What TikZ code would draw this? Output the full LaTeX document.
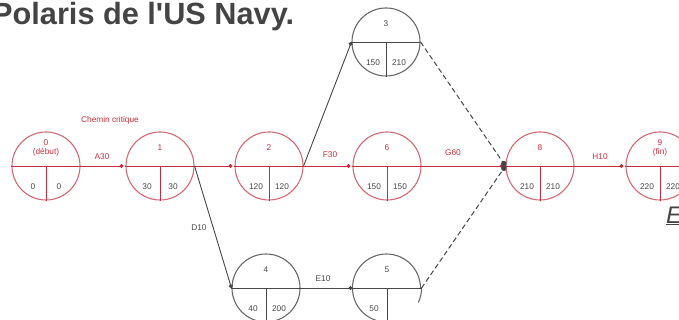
\documentclass[tikz,border=0pt]{standalone}
\usepackage{fontspec}
\setmainfont{Liberation Sans}
\newfontfamily\titlefont{Liberation Sans}[Ligatures=TeXOff]
\usetikzlibrary{arrows.meta}
\definecolor{crit}{RGB}{198,45,60}
\definecolor{critc}{RGB}{210,105,115}
\definecolor{gl}{RGB}{70,70,70}
\definecolor{gc}{RGB}{105,105,105}
\definecolor{titlegray}{RGB}{68,68,68}
\newcommand{\evnode}[9]{% name, x, y, circle style, line color, top, left, right, top colour
  \node[#4] (#1) at (#2,#3) {};
  \draw[#5, line width=0.9pt] (#1.west) -- (#1.east);
  \draw[#5, line width=0.9pt] (#1.center) -- (#1.south);
  \node[lab, text=#9] at (#2,#3-18) {#6};
  \node[lab] at (#2-13,#3+21) {#7};
  \node[lab] at (#2+13,#3+21) {#8};
}
\begin{document}
\begin{tikzpicture}[x=1pt,y=-1pt,
  ev/.style={circle, minimum size=68pt, inner sep=0pt, line width=1.1pt},
  critev/.style={ev, draw=critc},
  normev/.style={ev, draw=gc},
  lab/.style={font=\fontsize{8.3}{9}\selectfont, inner sep=0pt, align=center, text=gl},
  redlab/.style={font=\fontsize{8.3}{9}\selectfont, inner sep=0pt, text=crit},
  critline/.style={draw=crit, line width=0.9pt, -{Circle[length=4pt]}, shorten >=2pt},
  normline/.style={draw=gl, line width=0.9pt, -{Circle[length=4pt]}},
  dashline/.style={draw=gl, line width=1pt, dash pattern=on 5pt off 3pt, -{Circle[length=5.5pt]}}
]
\useasboundingbox (0,0) rectangle (679,320);
\clip (0,0) rectangle (679,320);

% title
\node[anchor=base west, inner sep=0pt, text=titlegray,
      font=\titlefont\bfseries\fontsize{30.7}{31}\selectfont] (title) at (-8,25) {Polaris de l'US Navy.};

% events
\evnode{n0}{46}{166}{critev}{crit}{0\\(début)}{0}{0}{crit}
\evnode{n1}{160}{166}{critev}{crit}{1}{30}{30}{crit}
\evnode{n2}{269}{166}{critev}{crit}{2}{120}{120}{crit}
\evnode{n6}{387}{166}{critev}{crit}{6}{150}{150}{crit}
\evnode{n8}{540}{166}{critev}{crit}{8}{210}{210}{crit}
\evnode{n9}{660}{166}{critev}{crit}{9\\(fin)}{220}{220}{crit}
\evnode{n3}{386}{42}{normev}{gl}{3}{150}{210}{gl}
\evnode{n4}{266}{288}{normev}{gl}{4}{40}{200}{gl}

% event 5 (partly hidden)
\node[ev, draw=none] (n5) at (387,288) {};
\draw[gc, line width=1.1pt] (n5.west) arc[start angle=180, end angle=0, radius=34pt];
\draw[gc, line width=1.1pt] (n5.west) arc[start angle=180, end angle=270, radius=34pt];
\draw[gc, line width=1.1pt] (n5.east) arc[start angle=0, end angle=-25, radius=34pt];
\draw[gl, line width=0.9pt] (n5.west) -- (n5.east);
\draw[gl, line width=0.9pt] (n5.center) -- (n5.south);
\node[lab] (l5) at (387,270) {5};
\node[lab] (l50) at (374,309) {50};

% critical path
\draw[critline] (n0.east) -- (n1.west);
\draw[critline] (n1.east) -- (n2.west);
\draw[critline] (n2.east) -- (n6.west);
\draw[critline] (n6.east) -- (n8.west);
\draw[critline] (n8.east) -- (n9.west);

% other activities
\draw[normline] (n2.east) -- (n3.west);
\draw[normline] (n1.east) -- (n4.west);
\draw[normline] (n4.east) -- (n5.west);
\draw[dashline] (n3.east) -- (n8.west);
\draw[dashline] (n5.east) -- (n8.west);

% labels
\node[redlab] (chem) at (110,120) {Chemin critique};
\node[redlab] (a30) at (102,157) {A30};
\node[redlab] (f30) at (330,155) {F30};
\node[redlab] (g60) at (453,153) {G60};
\node[redlab] (h10) at (600,157) {H10};
\node[lab] (d10) at (199,228) {D10};
\node[lab] (e10) at (323,279) {E10};

% cut link text
\node[anchor=base west, inner sep=0pt, text=titlegray,
      font=\itshape\fontsize{24}{26}\selectfont] (elink) at (666,223) {\underline{E}};
\end{tikzpicture}
\end{document}
